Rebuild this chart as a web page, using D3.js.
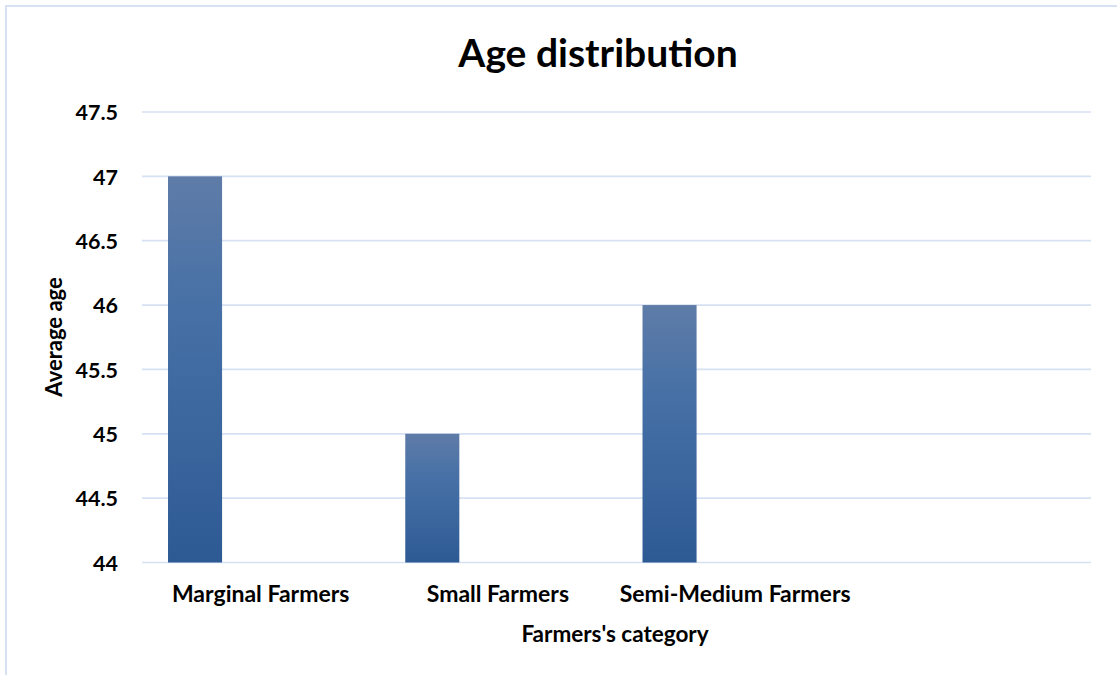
<!DOCTYPE html>
<html>
<head>
<meta charset="utf-8">
<script src="https://cdn.jsdelivr.net/npm/d3@7"></script>
<style>
  html, body { margin: 0; padding: 0; background: #ffffff; }
  svg { display: block; }
  text { font-family: Lato, "Open Sans", sans-serif; font-weight: bold; fill: #000; }
</style>
</head>
<body>
<svg id="chart" width="1117" height="675"></svg>
<script>
const categories = ["Marginal Farmers", "Small Farmers", "Semi-Medium Farmers", ""];
const seriesNames = ["Average age"];
const averageAge = [47, 45, 46, null];
const yTicks = [44, 44.5, 45, 45.5, 46, 46.5, 47, 47.5];
const yDomain = [44, 47.5];
const titleText = "Age distribution";
const xTitleText = "Farmers's category";
const yTitleText = "Average age";

const W = 1117, H = 675;
const plot = { left: 142, right: 1091, top: 112, bottom: 562.5 };

const svg = d3.select("#chart");

// gradient
const defs = svg.append("defs");
const grad = defs.append("linearGradient")
  .attr("id", "barGrad").attr("x1", 0).attr("y1", 0).attr("x2", 0).attr("y2", 1);
grad.append("stop").attr("offset", "0%").attr("stop-color", "#5f7ca8");
grad.append("stop").attr("offset", "35%").attr("stop-color", "#4670a6");
grad.append("stop").attr("offset", "100%").attr("stop-color", "#2e5a94");

// outer frame
svg.append("rect")
  .attr("x", 6).attr("y", 6).attr("width", W + 20).attr("height", H + 20)
  .attr("fill", "none").attr("stroke", "#d6e1f3").attr("stroke-width", 2);

const x = d3.scaleBand().domain(categories).range([plot.left, plot.right]).padding(0);
const xInner = d3.scaleBand().domain(seriesNames).range([0, x.bandwidth()])
  .paddingInner(0).paddingOuter(1.694).align(0.142);
const y = d3.scaleLinear().domain(yDomain).range([plot.bottom, plot.top]);

// gridlines
svg.append("g").selectAll("line").data(yTicks).join("line")
  .attr("x1", plot.left).attr("x2", plot.right)
  .attr("y1", d => y(d)).attr("y2", d => y(d))
  .attr("stroke", "#d6e1f2").attr("stroke-width", 1.7);

// bars
const data = categories.map((c, i) => ({ cat: c, series: seriesNames[0], value: averageAge[i] }))
  .filter(d => d.value != null);
svg.append("g").selectAll("rect").data(data).join("rect")
  .attr("x", d => x(d.cat) + xInner(d.series))
  .attr("width", xInner.bandwidth())
  .attr("y", d => y(d.value))
  .attr("height", d => y(yDomain[0]) - y(d.value))
  .attr("fill", "url(#barGrad)");

// y axis labels
const yAxis = d3.axisLeft(y).tickValues(yTicks).tickSize(0).tickPadding(0)
  .tickFormat(d3.format("~g"));
const gy = svg.append("g").attr("transform", `translate(118,0)`).call(yAxis);
gy.select(".domain").remove();
gy.selectAll("text").style("font-size", "21.5px").attr("font-family", null).attr("dy", "0.36em");

// x axis labels
const xAxis = d3.axisBottom(x).tickSize(0).tickPadding(0);
const gx = svg.append("g").attr("transform", `translate(0,${plot.bottom})`).call(xAxis);
gx.select(".domain").remove();
gx.selectAll("text").style("font-size", "23px").attr("font-family", null).attr("dy", null).attr("y", 39.5);

// title
svg.append("text").attr("x", 598).attr("y", 67).attr("text-anchor", "middle")
  .style("font-size", "39px").text(titleText);

// x title
svg.append("text").attr("x", 615).attr("y", 642).attr("text-anchor", "middle")
  .style("font-size", "22.5px").text(xTitleText);

// y title
svg.append("text").attr("transform", `translate(62,337) rotate(-90)`).attr("text-anchor", "middle")
  .style("font-size", "22px").text(yTitleText);
</script>
</body>
</html>
